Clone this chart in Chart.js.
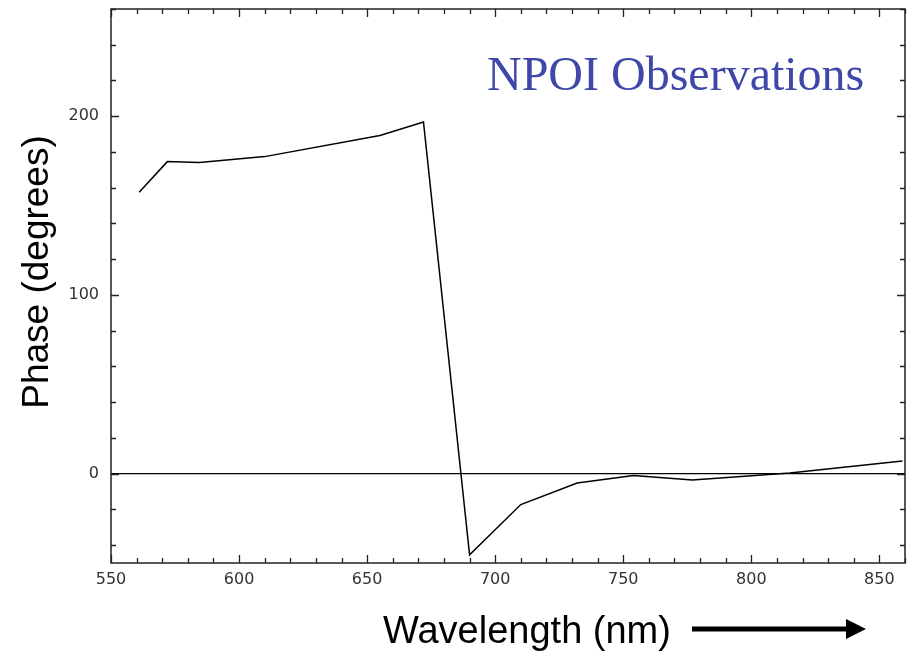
<!DOCTYPE html>
<html>
<head>
<meta charset="utf-8">
<script src="https://cdn.jsdelivr.net/npm/chart.js@4/dist/chart.umd.min.js"></script>
<style>
  html, body { margin: 0; padding: 0; background: #ffffff; }
  #wrap { width: 915px; height: 651px; }
</style>
</head>
<body>
<div id="wrap"><canvas id="c" width="915" height="651"></canvas></div>
<script>
// ---- data ----
const wavelength = [561, 572, 584.5, 610, 655, 672, 690, 710, 732, 754, 777, 815, 859];
const phase      = [157.5, 174.6, 174.1, 177.4, 189.2, 196.8, -45.4, -17.3, -5.2, -1.1, -3.5, 0.3, 7.1];
const zeroLineX  = [550, 860];
const zeroLineY  = [0, 0];
const xTickLabels = [550, 600, 650, 700, 750, 800, 850];
const yTickLabels = [0, 100, 200];
const xMinorStep = 10, yMinorStep = 20;
const titleText = 'NPOI Observations';
const xTitle = 'Wavelength (nm)';
const yTitle = 'Phase (degrees)';

const toXY = (xs, ys) => xs.map((x, i) => ({ x: x, y: ys[i] }));

const framePlugin = {
  id: 'frame',
  afterDraw(chart) {
    const ctx = chart.ctx;
    const { left, right, top, bottom } = chart.chartArea;
    const xs = chart.scales.x, ys = chart.scales.y;
    ctx.save();
    ctx.strokeStyle = '#222';
    ctx.lineWidth = 1.5;
    ctx.strokeRect(left, top, right - left, bottom - top);
    ctx.lineWidth = 1.3;
    ctx.beginPath();
    for (let v = xs.min; v <= xs.max + 1e-9; v += xMinorStep) {
      const px = Math.round(xs.getPixelForValue(v)) + 0.5;
      const len = (v % 50 === 0) ? 8 : 5;
      ctx.moveTo(px, bottom); ctx.lineTo(px, bottom - len);
      ctx.moveTo(px, top); ctx.lineTo(px, top + len);
    }
    for (let v = -40; v <= ys.max; v += yMinorStep) {
      const py = Math.round(ys.getPixelForValue(v)) + 0.5;
      const len = (v % 100 === 0) ? 8 : 5;
      ctx.moveTo(left, py); ctx.lineTo(left + len, py);
      ctx.moveTo(right, py); ctx.lineTo(right - len, py);
    }
    ctx.stroke();

    // titles
    ctx.fillStyle = '#3f48a8';
    ctx.font = '48px "Liberation Serif", "Times New Roman", serif';
    ctx.textBaseline = 'alphabetic';
    ctx.textAlign = 'left';
    ctx.fillText(titleText, 487, 90);

    ctx.fillStyle = '#000';
    ctx.font = '38px "Liberation Sans", Arial, sans-serif';
    ctx.textBaseline = 'alphabetic';
    ctx.fillText(xTitle, 383, 643);

    ctx.save();
    ctx.translate(48, 272);
    ctx.rotate(-Math.PI / 2);
    ctx.font = '37px "Liberation Sans", Arial, sans-serif';
    ctx.textAlign = 'center';
    ctx.textBaseline = 'alphabetic';
    ctx.fillText(yTitle, 0, 0);
    ctx.restore();

    // arrow
    ctx.fillStyle = '#000';
    ctx.fillRect(692, 626.5, 158, 5);
    ctx.beginPath();
    ctx.moveTo(846, 619);
    ctx.lineTo(866, 629);
    ctx.lineTo(846, 639);
    ctx.closePath();
    ctx.fill();
    ctx.restore();
  }
};

new Chart(document.getElementById('c'), {
  type: 'line',
  data: {
    datasets: [
      {
        label: 'Phase',
        data: toXY(wavelength, phase),
        borderColor: '#000',
        borderWidth: 1.5,
        pointRadius: 0,
        tension: 0,
        fill: false
      },
      {
        label: 'Zero',
        data: toXY(zeroLineX, zeroLineY),
        borderColor: '#000',
        borderWidth: 1.3,
        pointRadius: 0,
        tension: 0,
        fill: false
      }
    ]
  },
  options: {
    responsive: false,
    animation: false,
    events: [],
    layout: { padding: { left: 0, right: 10, top: 9, bottom: 0 } },
    plugins: { legend: { display: false }, tooltip: { enabled: false } },
    scales: {
      x: {
        type: 'linear',
        min: 550, max: 860,
        afterBuildTicks: (s) => { s.ticks = xTickLabels.map(v => ({ value: v })); },
        afterFit: (s) => { s.height = 88; s.paddingLeft = 0; s.paddingRight = 0; },
        grid: { display: false, drawTicks: false },
        border: { display: false },
        ticks: {
          padding: 7,
          color: '#333',
          font: { family: '"DejaVu Sans", Verdana, sans-serif', size: 16 },
          maxRotation: 0,
          autoSkip: false
        }
      },
      y: {
        type: 'linear',
        min: -50, max: 260,
        afterBuildTicks: (s) => { s.ticks = yTickLabels.map(v => ({ value: v })); },
        afterFit: (s) => { s.width = 111; s.paddingTop = 0; s.paddingBottom = 0; },
        grid: { display: false, drawTicks: false },
        border: { display: false },
        ticks: {
          padding: 12,
          color: '#333',
          font: { family: '"DejaVu Sans", Verdana, sans-serif', size: 16 },
          autoSkip: false
        }
      }
    }
  },
  plugins: [framePlugin]
});
</script>
</body>
</html>
